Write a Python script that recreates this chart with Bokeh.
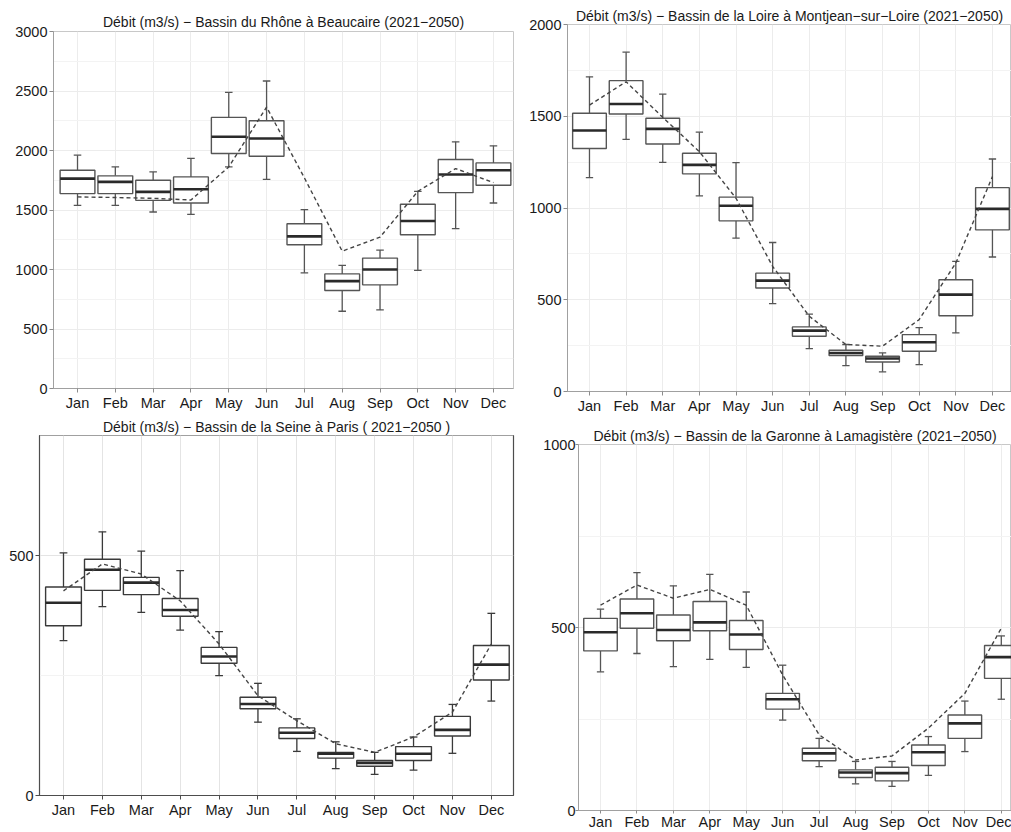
from bokeh.plotting import figure
from bokeh.layouts import column, row
from bokeh.models import FixedTicker, Range1d
from bokeh.embed import file_html
from bokeh.resources import INLINE
import numpy as np

months = ["Jan", "Feb", "Mar", "Apr", "May", "Jun", "Jul", "Aug", "Sep", "Oct", "Nov", "Dec"]

# Rhône à Beaucaire
rhone_low  = [1539, 1539, 1483, 1463, 1862, 1758, 972, 649, 660, 992, 1343, 1559]
rhone_q1   = [1638, 1638, 1581, 1559, 1975, 1952, 1208, 823, 871, 1292, 1646, 1708]
rhone_med  = [1764, 1736, 1652, 1674, 2115, 2101, 1278, 902, 1000, 1407, 1798, 1834]
rhone_q3   = [1834, 1787, 1750, 1778, 2278, 2250, 1385, 963, 1096, 1548, 1924, 1896]
rhone_high = [1961, 1862, 1820, 1933, 2489, 2584, 1503, 1034, 1163, 1657, 2073, 2039]
rhone_mean = [1610, 1605, 1598, 1584, 1862, 2365, 1770, 1154, 1272, 1657, 1848, 1730]

# Loire à Montjean-sur-Loire
loire_low  = [1166, 1374, 1249, 1066, 836, 479, 234, 141, 107, 147, 319, 733]
loire_q1   = [1324, 1512, 1349, 1186, 930, 564, 301, 196, 161, 219, 413, 881]
loire_med  = [1422, 1567, 1431, 1235, 1012, 604, 332, 210, 180, 268, 528, 995]
loire_q3   = [1516, 1694, 1489, 1298, 1059, 645, 352, 225, 192, 310, 609, 1111]
loire_high = [1715, 1849, 1621, 1413, 1247, 812, 422, 256, 210, 348, 709, 1267]
loire_mean = [1561, 1688, 1494, 1307, 1053, 682, 410, 256, 247, 392, 700, 1171]

# Seine à Paris
seine_low  = [323, 394, 382, 345, 250, 153, 92, 56, 44, 53, 88, 197]
seine_q1   = [354, 428, 419, 374, 276, 181, 119, 78, 61, 73, 124, 241]
seine_med  = [402, 471, 444, 387, 290, 191, 131, 87, 68, 87, 137, 273]
seine_q3   = [435, 493, 455, 411, 309, 205, 141, 90, 73, 102, 165, 313]
seine_high = [506, 550, 510, 469, 342, 234, 160, 112, 90, 122, 190, 380]
seine_mean = [427, 483, 462, 406, 316, 208, 156, 108, 90, 122, 174, 316]

# Garonne à Lamagistère
gar_low  = [379, 429, 393, 413, 391, 247, 120, 73, 66, 96, 161, 304]
gar_q1   = [436, 498, 464, 491, 440, 277, 136, 90, 81, 123, 197, 361]
gar_med  = [487, 539, 493, 514, 481, 304, 156, 104, 102, 159, 238, 419]
gar_q3   = [525, 578, 534, 571, 519, 320, 170, 111, 118, 179, 261, 451]
gar_high = [550, 650, 614, 645, 597, 397, 197, 134, 134, 202, 299, 477]
gar_mean = [561, 616, 580, 604, 561, 370, 207, 138, 149, 225, 320, 498]

FONT = "Liberation Sans"


def panel(title, low, q1, med, q3, high, mean, ymax, yticks, yminor,
          width, height, bl, br, bt, bb, xstart, xend, tstand, framed=False,
          tick_out=4, lab_stand=2):
    x = np.arange(1, 13)
    p = figure(width=width, height=height, output_backend="svg", toolbar_location=None,
               x_range=Range1d(xstart, xend), y_range=Range1d(0, ymax),
               min_border_left=bl, min_border_right=br, min_border_top=bt, min_border_bottom=bb)
    p.background_fill_color = "white"
    p.border_fill_color = "white"
    p.title.text = title
    p.title.align = "center"
    p.title.text_font = FONT
    p.title.text_font_style = "normal"
    p.title.text_font_size = "14px"
    p.title.text_color = "#1a1a1a"
    p.title.text_line_height = 1.0
    p.title.standoff = tstand
    p.title.offset = 0

    edge = "#4d4d4d" if framed else "#c8c8c8"
    p.outline_line_color = edge
    p.outline_line_width = 1.2 if framed else 1

    grid_c = "#e4e4e4" if framed else "#ececec"
    p.xaxis.ticker = FixedTicker(ticks=list(x))
    p.xaxis.major_label_overrides = {int(i): m for i, m in zip(x, months)}
    p.yaxis.ticker = FixedTicker(ticks=yticks, minor_ticks=yminor)
    p.xgrid.grid_line_color = grid_c
    p.ygrid.grid_line_color = grid_c
    p.ygrid.minor_grid_line_color = "#f3f3f3"

    for ax in (p.xaxis[0], p.yaxis[0]):
        ax.axis_line_color = "#4d4d4d" if framed else "#a0a0a0"
        ax.major_tick_line_color = "#4d4d4d" if framed else "#8c8c8c"
        ax.major_tick_out = tick_out
        ax.major_tick_in = 0
        ax.minor_tick_out = 0
        ax.minor_tick_in = 0
        ax.major_label_standoff = lab_stand
        ax.major_label_text_font = FONT
        ax.major_label_text_font_size = "14.5px"
        ax.major_label_text_color = "#1a1a1a"

    box_c = "#3a3a3a" if framed else "#555555"
    capw = 0.1
    bw = 0.92
    p.segment(x0=x, y0=q3, x1=x, y1=high, line_color=box_c, line_width=1.3)
    p.segment(x0=x, y0=q1, x1=x, y1=low, line_color=box_c, line_width=1.3)
    p.segment(x0=x - capw, y0=high, x1=x + capw, y1=high, line_color=box_c, line_width=1.3)
    p.segment(x0=x - capw, y0=low, x1=x + capw, y1=low, line_color=box_c, line_width=1.3)
    p.vbar(x=x, width=bw, bottom=q1, top=q3, fill_color="white",
           line_color=box_c, line_width=1.4)
    p.segment(x0=x - bw / 2, y0=med, x1=x + bw / 2, y1=med, line_color="#2a2a2a", line_width=2.6)
    p.line(x=x, y=mean, line_color="#444444", line_width=1.4, line_dash="4 3")
    return p


p1 = panel("Débit (m3/s) − Bassin du Rhône à Beaucaire (2021−2050)",
           rhone_low, rhone_q1, rhone_med, rhone_q3, rhone_high, rhone_mean,
           3000, [0, 500, 1000, 1500, 2000, 2500, 3000], [250, 750, 1250, 1750, 2250, 2750],
           518, 416, 53, 5, 31, 28, 0.365, 12.53, 3)
p2 = panel("Débit (m3/s) − Bassin de la Loire à Montjean−sur−Loire (2021−2050)",
           loire_low, loire_q1, loire_med, loire_q3, loire_high, loire_mean,
           2000, [0, 500, 1000, 1500, 2000], [250, 750, 1250, 1750],
           493, 416, 49, 0, 24, 24, 0.40, 12.52, 1)
p3 = panel("Débit (m3/s) − Bassin de la Seine à Paris ( 2021−2050 )",
           seine_low, seine_q1, seine_med, seine_q3, seine_high, seine_mean,
           751, [0, 500], [250, 750],
           518, 416, 39, 5, 18, 37, 0.383, 12.57, 1, framed=True)
p4 = panel("Débit (m3/s) − Bassin de la Garonne à Lamagistère (2021−2050)",
           gar_low, gar_q1, gar_med, gar_q3, gar_high, gar_mean,
           1000, [0, 500, 1000], [250, 750],
           493, 416, 60, 0, 28, 21, 0.396, 12.28, 1, tick_out=3, lab_stand=0)

layout = column(row(column(p1), column(p2)), row(column(p3), column(p4)))
open("out.html", "w").write(file_html(layout, INLINE))
